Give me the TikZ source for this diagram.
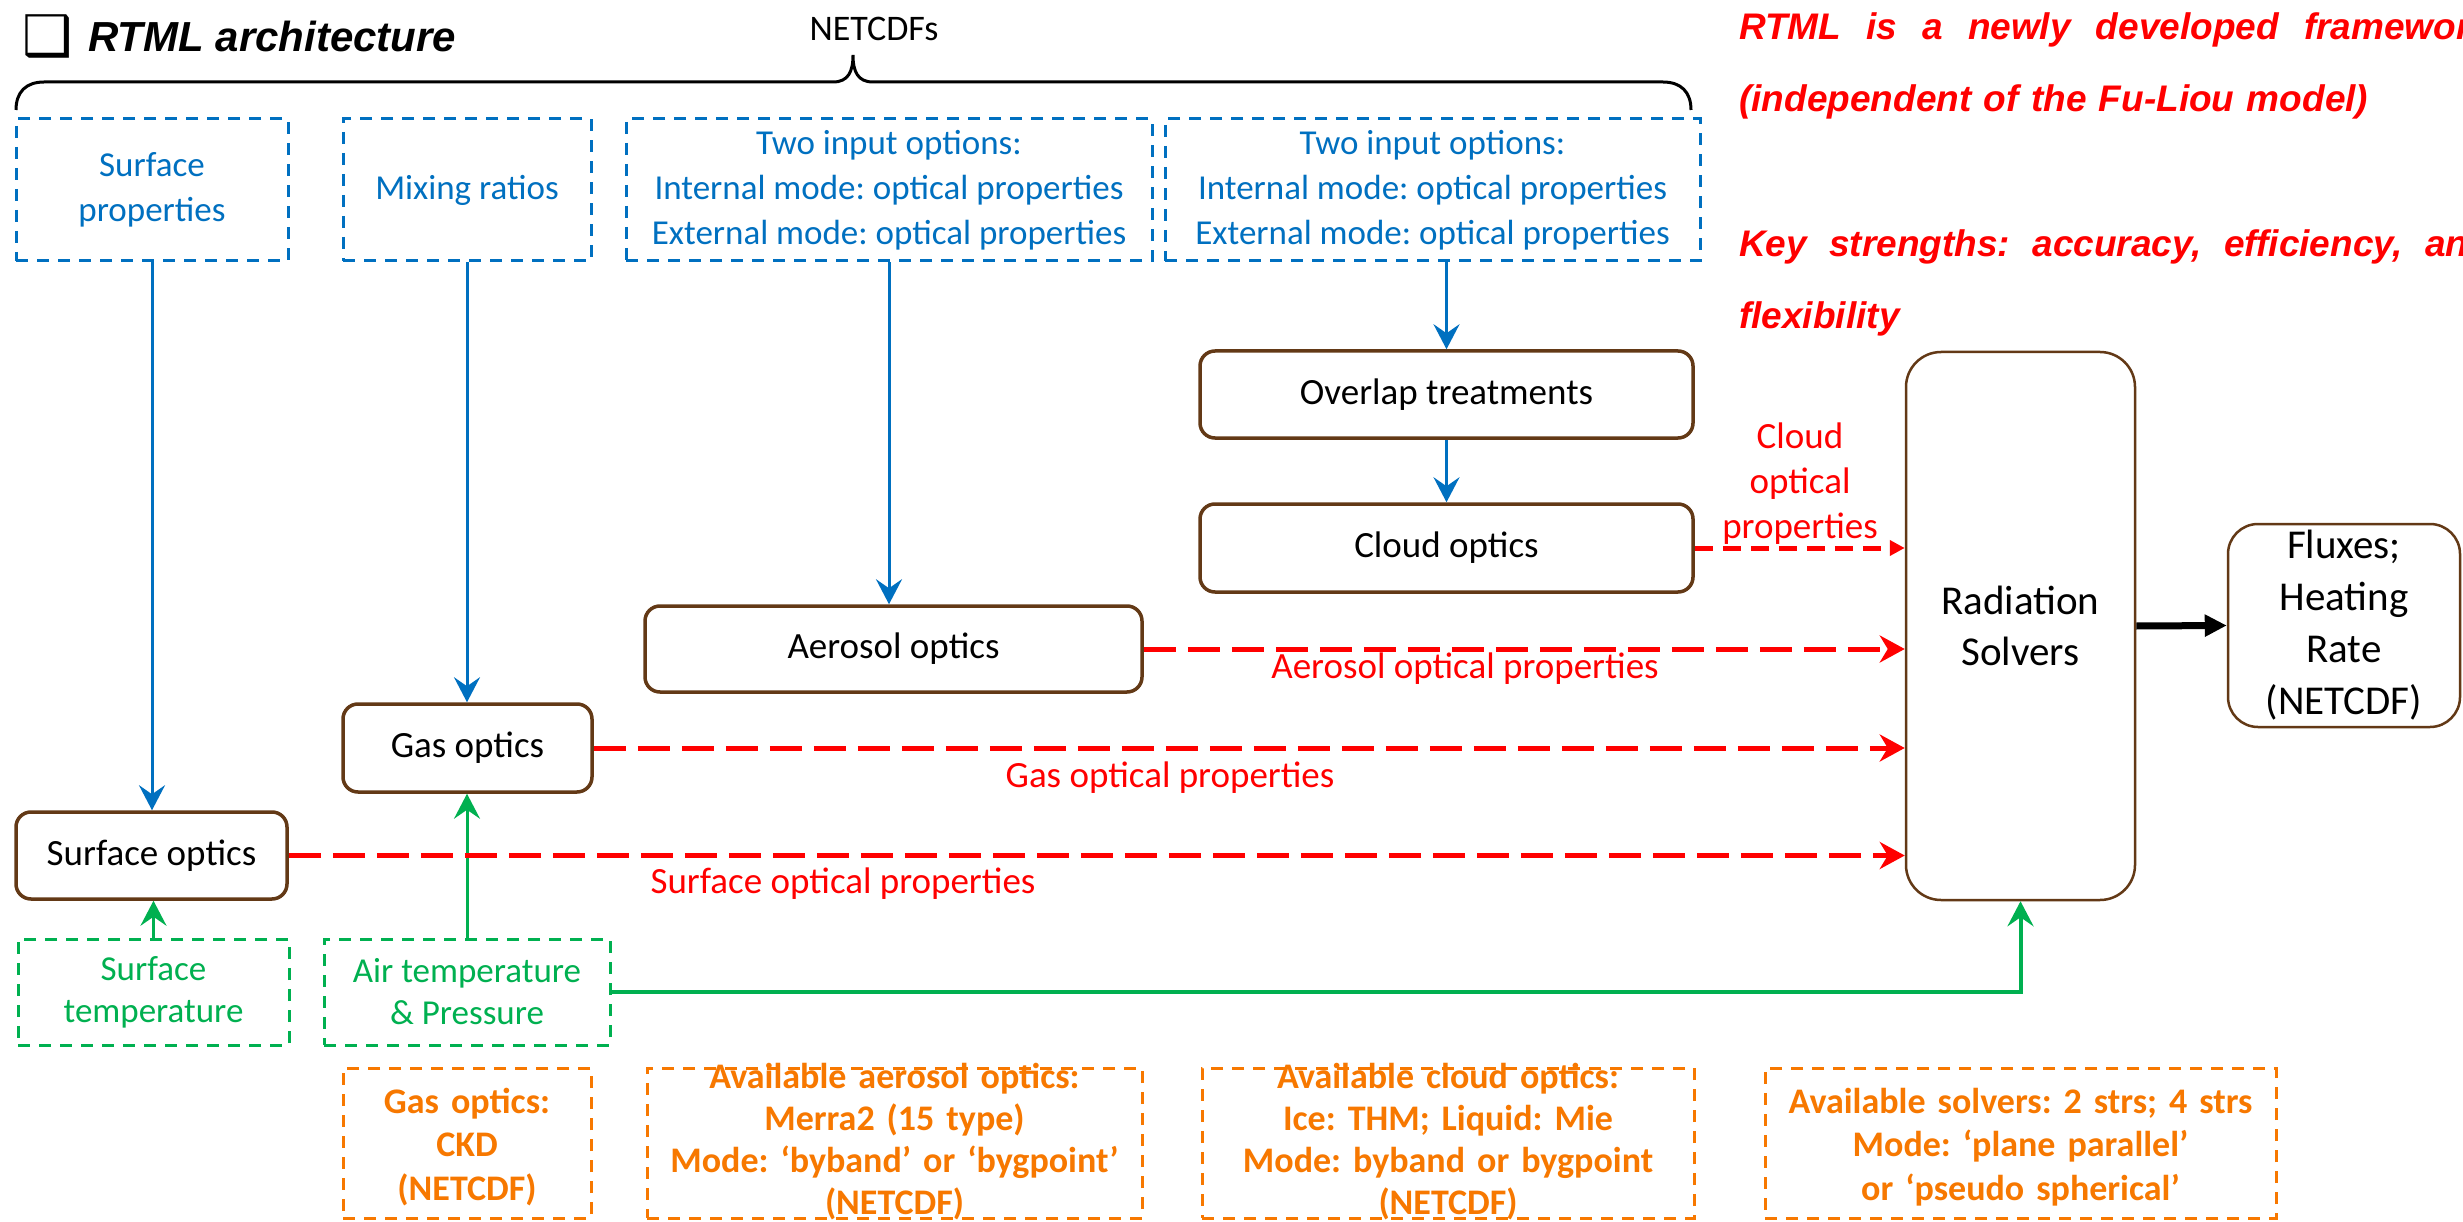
\documentclass[tikz,border=0pt]{standalone}
\usepackage{fontspec}
\setmainfont{Carlito}
\newfontfamily\headfont{Liberation Sans}
\newfontfamily\symbolfont{DejaVu Sans}
\usetikzlibrary{arrows.meta}
\definecolor{cblue}{RGB}{0,112,192}
\definecolor{cgreen}{RGB}{0,176,80}
\definecolor{cred}{RGB}{255,0,0}
\definecolor{corange}{RGB}{247,120,0}
\definecolor{cbrown}{RGB}{99,57,22}
\hbadness=10000
\frenchspacing
\begin{document}
\begin{tikzpicture}[x=1pt,y=-1pt,
  every node/.style={inner sep=0pt},
  procbox/.style={draw=cbrown, line width=3.5pt, rounded corners=15pt, align=center,
    font=\fontsize{37}{46}\selectfont},
  bigbox/.style={draw=cbrown, line width=2.5pt, rounded corners=35pt, align=center,
    font=\fontsize{41}{51}\selectfont},
  inbox/.style={draw=cblue, text=cblue, line width=3pt, dash pattern=on 12pt off 9pt,
    align=center, font=\fontsize{35}{45}\selectfont},
  envbox/.style={inbox, draw=cgreen, text=cgreen, font=\fontsize{35}{42}\selectfont},
  infobox/.style={draw=corange, line width=3pt, dash pattern=on 12pt off 9pt},
  infotext/.style={text=corange, anchor=base, text width=620pt, align=center,
    font=\bfseries\fontsize{36}{43.5}\selectfont},
  infotextb/.style={infotext, font=\bfseries\fontsize{36}{42.3}\selectfont},
  feed/.style={line width=3pt, -{Stealth[length=25pt,width=26pt,inset=9pt]}},
  optflow/.style={draw=cred, line width=5pt, dash pattern=on 32pt off 12pt,
    -{Stealth[length=25pt,width=27pt,inset=8pt]}},
  cldflow/.style={draw=cred, line width=5pt, dash pattern=on 18pt off 10pt,
    -{Triangle[length=15pt,width=15pt]}},
  outflow/.style={line width=7pt, -{Triangle[length=22pt,width=21pt]}},
  lbl/.style={text=cred, anchor=base, font=\fontsize{37}{45}\selectfont},
  notetext/.style={anchor=base west, text width=752pt, align=left, text=cred,
    font=\headfont\bfseries\itshape\fontsize{37}{72}\selectfont}
]
\useasboundingbox (0,0) rectangle (2463,1222);
\fill[white] (0,0) rectangle (2463,1222);

% heading
\node[font=\symbolfont\fontsize{56}{56}\selectfont] (bullet) at (48,36) {❑};
\node[anchor=base west, font=\headfont\bfseries\itshape\fontsize{42}{50}\selectfont] (title) at (88,52) {RTML architecture};

% side notes (justified lines running past the right edge)
\begin{scope}
  \clip (0,0) rectangle (2463,1222);
  \node[notetext] (note1) at (1739,40)
    {\makebox[752pt][l]{RTML\hfill is\hfill a\hfill newly\hfill developed\hfill framework}\\(independent of the Fu-Liou model)};
  \node[notetext] (note2) at (1739,257)
    {\makebox[752pt][l]{Key\hfill strengths:\hfill accuracy,\hfill efficiency,\hfill and}\\flexibility};
\end{scope}

% brace grouping the NETCDF inputs
\draw[line width=3pt] (16,110) .. controls (16,92) and (26,82) .. (44,82) -- (833,82)
  .. controls (848,82) and (853,72) .. (853,55)
  .. controls (853,72) and (858,82) .. (873,82) -- (1663,82)
  .. controls (1681,82) and (1691,92) .. (1691,110);
\node[anchor=base, font=\fontsize{36}{43}\selectfont] (netcdf) at (874,41) {NETCDFs};

% NETCDF inputs
\node[inbox, minimum width=272pt, minimum height=142pt] (sfcprop) at (152,190) {Surface\\properties};
\node[inbox, minimum width=248pt, minimum height=142pt] (mix) at (467,190) {Mixing ratios};
\node[inbox, minimum width=526pt, minimum height=142pt] (aerin) at (889,190)
  {Two input options:\\Internal mode: optical properties\\External mode: optical properties};
\node[inbox, minimum width=535pt, minimum height=142pt] (cldin) at (1432.5,190)
  {Two input options:\\Internal mode: optical properties\\External mode: optical properties};

% optics modules
\node[procbox, minimum width=493pt, minimum height=87pt] (ovl) at (1446.5,394.5) {Overlap treatments};
\node[procbox, minimum width=493pt, minimum height=88pt] (cld) at (1446.5,548) {Cloud optics};
\node[procbox, minimum width=497pt, minimum height=86pt] (aer) at (893.5,649) {Aerosol optics};
\node[procbox, minimum width=249pt, minimum height=88pt] (gas) at (467.5,748) {Gas optics};
\node[procbox, minimum width=271pt, minimum height=87pt] (sfc) at (151.5,855.5) {Surface optics};

% solver and output
\node[bigbox, minimum width=229pt, minimum height=548pt] (rad) at (2020.5,626) {Radiation\\Solvers};
\node[bigbox, rounded corners=30pt, font=\fontsize{41}{52}\selectfont,
  minimum width=232pt, minimum height=203pt] (flx) at (2344,625.5) {Fluxes;\\Heating\\Rate\\(NETCDF)};

% state inputs
\node[envbox, minimum width=271pt, minimum height=106pt] (stemp) at (153.5,992) {Surface\\temperature};
\node[envbox, minimum width=286pt, minimum height=106pt] (atemp) at (467,992) {Air temperature\\\& Pressure};

% available options
\node[infobox, minimum width=248pt, minimum height=150pt] (gasinfo) at (467,1143) {};
\node[infotext] (gasinfotxt) at (467,1113) {Gas optics:\\CKD\\(NETCDF)};
\node[infobox, minimum width=495pt, minimum height=150pt] (aerinfo) at (894.5,1143) {};
\node[infotextb] (aerinfotxt) at (894.5,1088)
  {Available aerosol optics:\\Merra2 (15 type)\\Mode: ‘byband’ or ‘bygpoint’\\(NETCDF)};
\node[infobox, minimum width=492pt, minimum height=150pt] (cldinfo) at (1448,1143) {};
\node[infotextb] (cldinfotxt) at (1448,1088)
  {Available cloud optics:\\Ice: THM; Liquid: Mie\\Mode: byband or bygpoint\\(NETCDF)};
\node[infobox, minimum width=511pt, minimum height=150pt] (solinfo) at (2020.5,1143) {};
\node[infotext] (solinfotxt) at (2020.5,1113)
  {Available solvers: 2 strs; 4 strs\\Mode: ‘plane parallel’\\or ‘pseudo spherical’};

% input feeds
\draw[feed, color=cblue] (sfcprop.south) -- (sfcprop.south |- sfc.north);
\draw[feed, color=cblue] (mix.south) -- (mix.south |- gas.north);
\draw[feed, color=cblue] (aerin.south) -- (aerin.south |- aer.north);
\draw[feed, color=cblue] (ovl.north |- cldin.south) -- (ovl.north);
\draw[feed, color=cblue] (ovl.south) -- (cld.north);
\draw[feed, color=cgreen] (stemp.north) -- (stemp.north |- sfc.south);
\draw[feed, color=cgreen] (atemp.north) -- (atemp.north |- gas.south);
\draw[feed, color=cgreen, line width=4pt] (atemp.east) -| (rad.south);

% optical properties to the solver
\draw[cldflow] (cld.east) -- (rad.west |- cld.east);
\draw[optflow] (aer.east) -- (rad.west |- aer.east);
\draw[optflow] (gas.east) -- (rad.west |- gas.east);
\draw[optflow] (sfc.east) -- (rad.west |- sfc.east);
\draw[outflow] (rad.east) -- (flx.west);

\node[lbl, text width=200pt, align=center] (cldlbl) at (1800,448) {Cloud\\optical\\properties};
\node[lbl] (aerlbl) at (1465,678) {Aerosol optical properties};
\node[lbl] (gaslbl) at (1170,787) {Gas optical properties};
\node[lbl] (sfclbl) at (843,893) {Surface optical properties};
\end{tikzpicture}
\end{document}
